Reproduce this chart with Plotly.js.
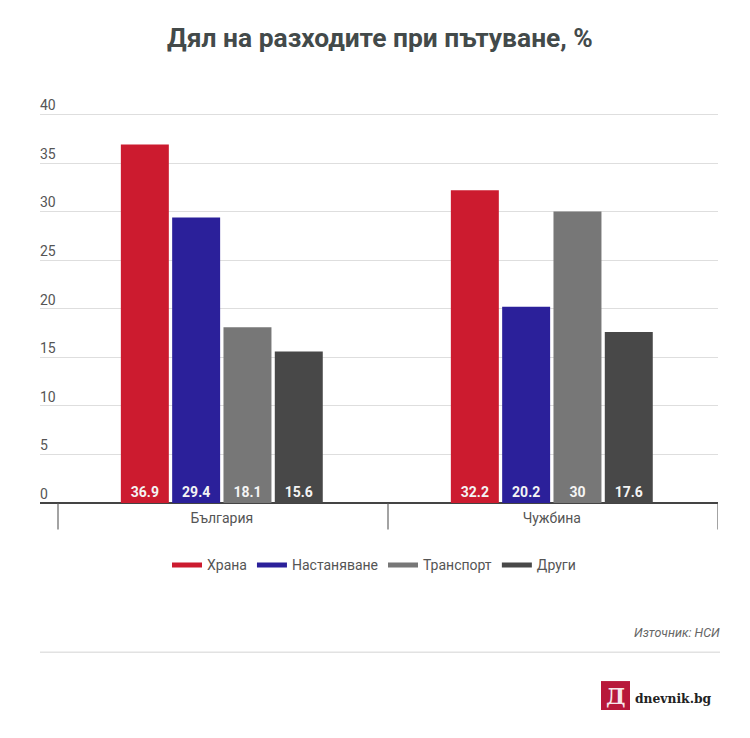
<!DOCTYPE html>
<html><head><meta charset="utf-8">
<script src="https://cdn.plot.ly/plotly-3.0.1.min.js"></script>
<style>html,body{margin:0;padding:0;background:#fff}</style></head>
<body><div id="chart" style="width:750px;height:738px"></div>
<script>
const categories = ["България", "Чужбина"];
const catPositions = [0, 1];
const separators = [-0.4964, 0.5036, 1.5036];
const seriesNames = ["Храна", "Настаняване", "Транспорт", "Други"];
const seriesColors = ["#cc1b2f", "#2b209a", "#777777", "#484848"];
const food = [36.9, 32.2];
const lodging = [29.4, 20.2];
const transport = [18.1, 30];
const other = [15.6, 17.6];
const allValues = [food, lodging, transport, other];
const yTicks = [0, 5, 10, 15, 20, 25, 30, 35, 40];

const W = 750, H = 738, L = 40, R = 718, T = 94.5, B = 503.5;
const px = x => (x - L) / (R - L);
const py = y => (B - y) / (B - T);

const bars = allValues.map((vals, i) => ({
  type: "bar", name: seriesNames[i], x: catPositions, y: vals,
  marker: {color: seriesColors[i]}, showlegend: false,
  text: vals.map(String), textposition: "inside", insidetextanchor: "start",
  textangle: 0, constraintext: "none",
  textfont: {family: "Roboto", size: 14, color: "#f4f4f4", weight: 700},
  hoverinfo: "name+y"
}));
const keys = seriesNames.map((n, i) => ({
  type: "scatter", mode: "lines", name: n, x: [null], y: [null],
  line: {color: seriesColors[i], width: 5}, hoverinfo: "skip"
}));

const layout = {
  width: W, height: H, paper_bgcolor: "#fff", plot_bgcolor: "#fff",
  margin: {l: L, r: W - R, t: T, b: H - B, pad: 0},
  font: {family: "Roboto", color: "#555"},
  title: {text: "<b>Дял на разходите при пътуване, %</b>", font: {family: "Roboto", size: 26.4, color: "#434a4a"},
    x: 380 / W, xanchor: "center", y: 1 - 38 / H, yanchor: "middle"},
  barmode: "group", bargap: 0.378, bargroupgap: 0.065,
  xaxis: {type: "linear", range: [-0.5 - 18 / 330 + 0.0036, 1.5036], tickmode: "array", tickvals: catPositions, ticktext: categories,
    ticks: "", showgrid: false, zeroline: false, showline: false, ticklabelstandoff: 5,
    tickfont: {family: "Roboto", size: 14, color: "#555"}},
  yaxis: {range: [0, 42], tickmode: "array", tickvals: yTicks, showgrid: true, gridcolor: "#dedede", gridwidth: 1,
    zeroline: true, zerolinecolor: "#444", zerolinewidth: 2, ticks: "", showline: false,
    ticklabelposition: "inside", ticklabelstandoff: -3, ticklabelshift: -9,
    tickfont: {family: "Roboto", size: 14, color: "#555"}},
  legend: {orientation: "h", x: px(374), xanchor: "center", y: py(566), yanchor: "middle",
    font: {family: "Roboto", size: 14, color: "#555"}, itemwidth: 30, traceorder: "normal"},
  shapes: separators.map(s => ({type: "line", xref: "x", yref: "paper", x0: s, x1: s, y0: py(504), y1: py(530), line: {color: "#666", width: 1.2}})).concat([
    {type: "line", xref: "paper", yref: "paper", x0: px(40), x1: px(720), y0: py(653), y1: py(653), line: {color: "#e2e2e2", width: 1.5}},
    {type: "rect", xref: "paper", yref: "paper", x0: px(601), x1: px(630), y0: py(682), y1: py(711), fillcolor: "#b8183a", line: {width: 0}}
  ]),
  annotations: [
    {text: "<i>Източник: НСИ</i>", xref: "paper", yref: "paper", x: px(722), y: py(633), xanchor: "right", yanchor: "middle", showarrow: false,
      font: {family: "Roboto", size: 12.5, color: "#666"}},
    {text: "<b>Д</b>", xref: "paper", yref: "paper", x: px(615.5), y: py(696.5), xanchor: "center", yanchor: "middle", showarrow: false,
      font: {family: "DejaVu Serif", size: 22, color: "#f6e6ea"}},
    {text: "<b>dnevnik.bg</b>", xref: "paper", yref: "paper", x: px(633), y: py(699), xanchor: "left", yanchor: "middle", showarrow: false,
      font: {family: "DejaVu Serif", size: 12.3, color: "#222"}}
  ]
};
Plotly.newPlot("chart", bars.concat(keys), layout, {displayModeBar: false, staticPlot: true});
</script></body></html>
